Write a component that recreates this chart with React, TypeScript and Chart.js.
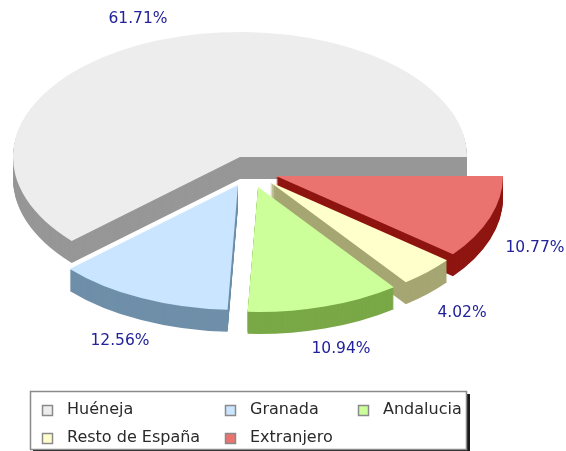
import React, { useEffect, useRef } from "react";
import { Chart, registerables } from "chart.js";

Chart.register(...registerables);

const categories = ["Huéneja", "Granada", "Andalucia", "Resto de España", "Extranjero"];
const shares = [61.71, 12.56, 10.94, 4.02, 10.77];

const topColors = ["#EDEDED", "#C9E5FF", "#CCFF99", "#FFFFCC", "#EA736F"];
const sideColors = ["#979797", "#6F8FA9", "#7AA847", "#A6A673", "#8E1510"];
const sliceShift = [[0, 0], [-2, 28], [18, 30], [30, 25], [36, 19]];
const labelPositions = [[138, 19], [120, 341], [341, 349], [462, 313], [535, 248]];
const legendPositions = [[42, 410], [225, 410], [358, 410], [42, 438], [225, 438]];

const DEPTH = 22;
const X_STRETCH = 227 / 125;
const FONT = '15.5px "DejaVu Sans"';
const TEXT_COLOR = "#22229A";

const pie3d = {
  id: "pie3d",
  beforeDatasetsDraw(chart: any) {
    const { ctx } = chart;
    const meta = chart.getDatasetMeta(0);
    const n = categories.length;
    // painter's order: the big back slice first, then front slices from right to left
    const order = [0, 4, 3, 2, 1];
    for (const cat of order) {
      const arc = meta.data[n - 1 - cat];
      const [dx, dy] = sliceShift[cat];
      const place = (extra: number) => {
        ctx.translate(arc.x + dx, arc.y + dy + extra);
        ctx.scale(X_STRETCH, 1);
        ctx.translate(-arc.x, -arc.y);
      };
      const base = arc.options;
      arc.options = { ...base, backgroundColor: sideColors[cat] };
      for (let d = DEPTH; d >= 1; d--) {
        ctx.save();
        place(d);
        arc.draw(ctx);
        ctx.restore();
      }
      arc.options = base;
      ctx.save();
      place(0);
      arc.draw(ctx);
      ctx.restore();
    }
    return false;
  },
  afterDraw(chart: any) {
    const { ctx } = chart;
    ctx.save();
    ctx.font = FONT;
    ctx.textBaseline = "middle";
    ctx.textAlign = "center";
    ctx.fillStyle = TEXT_COLOR;
    shares.forEach((v, i) => {
      const [x, y] = labelPositions[i];
      ctx.fillText(v.toFixed(2) + "%", x, y);
    });

    // legend
    ctx.fillStyle = "#1a1a1a";
    ctx.fillRect(33, 394, 437, 57);
    ctx.fillStyle = "#ffffff";
    ctx.fillRect(30, 391, 437, 59);
    ctx.strokeStyle = "#8a8a8a";
    ctx.lineWidth = 1.5;
    ctx.strokeRect(30.5, 391.5, 436, 58);
    ctx.textAlign = "left";
    ctx.font = '16px "DejaVu Sans"';
    categories.forEach((name, i) => {
      const [x, y] = legendPositions[i];
      ctx.fillStyle = topColors[i];
      ctx.fillRect(x + 0.5, y - 4.5, 10, 10);
      ctx.strokeStyle = "#8a8a8a";
      ctx.strokeRect(x + 0.5, y - 4.5, 10, 10);
      ctx.fillStyle = "#2a2a2a";
      ctx.fillText(name, x + 25, y);
    });
    ctx.restore();
  },
};

export default function App() {
  const ref = useRef<HTMLCanvasElement>(null);
  useEffect(() => {
    const chart = new Chart(ref.current as HTMLCanvasElement, {
      type: "pie",
      data: {
        labels: [...categories].reverse(),
        datasets: [
          {
            data: [...shares].reverse(),
            backgroundColor: [...topColors].reverse(),
            borderWidth: 0,
          },
        ],
      },
      options: {
        animation: false,
        responsive: false,
        rotation: 90,
        layout: { padding: { left: 13, right: 99, top: 32, bottom: 169 } },
        plugins: { legend: { display: false }, tooltip: { enabled: false } },
      },
      plugins: [pie3d],
    } as any);
    return () => chart.destroy();
  }, []);
  return (
    <div style={{ position: "absolute", left: 0, top: 0, width: 566, height: 451, background: "#fff" }}>
      <canvas ref={ref} width={566} height={451} style={{ display: "block", filter: "blur(0.5px)" }} />
    </div>
  );
}
